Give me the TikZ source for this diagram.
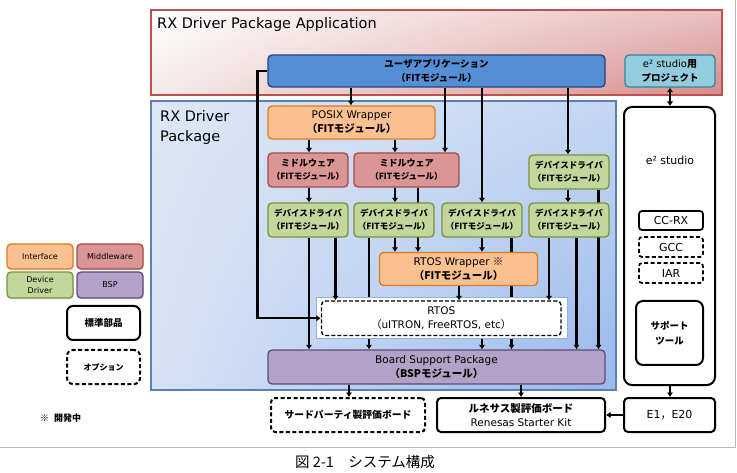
\documentclass[tikz,border=0pt]{standalone}
\usepackage{fontspec}
\setmainfont{DejaVu Sans}
\newfontfamily\cjk{Noto Sans CJK JP}
\usetikzlibrary{arrows.meta,shadows,shadings}
\newcommand{\myjb}[1]{{\cjk\bfseries #1}}
\newcommand{\myj}[1]{{\cjk #1}}
\definecolor{redB}{HTML}{C0504D}
\definecolor{redR1}{HTML}{E9C0C0}
\definecolor{redR2}{HTML}{D68C8A}
\definecolor{redL}{HTML}{F3EAEA}
\definecolor{bluB}{HTML}{5B7FB5}
\definecolor{bluUL}{HTML}{DDE7F5}
\definecolor{bluLL}{HTML}{D6E2F5}
\definecolor{bluUR}{HTML}{C4D7F3}
\definecolor{bluLR}{HTML}{98B8EC}
\definecolor{uaF}{HTML}{558ED5}
\definecolor{uaD}{HTML}{24467A}
\definecolor{cyF}{HTML}{93CDDD}
\definecolor{cyD}{HTML}{31859C}
\definecolor{orF}{HTML}{FAC090}
\definecolor{orD}{HTML}{E07B22}
\definecolor{mwF}{HTML}{D99694}
\definecolor{mwD}{HTML}{A84A48}
\definecolor{ddF}{HTML}{C3D69B}
\definecolor{ddD}{HTML}{77933C}
\definecolor{bspF}{HTML}{B3A2C7}
\definecolor{bspD}{HTML}{604A7B}
\definecolor{rtB}{HTML}{8DB3E2}
\pgfdeclarelayer{bg}
\pgfdeclarelayer{edges}
\pgfsetlayers{bg,edges,main}
\begin{document}
\begin{tikzpicture}[x=1pt,y=-1pt,
  box/.style={rounded corners=4pt, line width=1.3pt, align=center, inner sep=0pt},
  obox/.style={box, fill=orF, draw=orD},
  mbox/.style={box, fill=mwF, draw=mwD},
  dbox/.style={box, fill=ddF, draw=ddD},
  pbox/.style={box, fill=bspF, draw=bspD},
  kbox/.style={rounded corners=4pt, line width=2pt, draw=black, fill=white, align=center, inner sep=0pt},
  kdash/.style={kbox, dash pattern=on 4pt off 2.5pt},
  arr/.style={line width=2.3pt, -{Latex[length=4.5pt,width=6.5pt]}},
  ddsize/.style={minimum width=80, minimum height=34},
  jpsmall/.style={font=\cjk\bfseries\fontsize{8.5}{13}\selectfont},
  legshadow/.style={drop shadow={opacity=0.25, shadow xshift=1pt, shadow yshift=-1.5pt}},
  leg/.style={box, legshadow, font=\fontsize{8}{11}\selectfont, minimum width=66},
]
\useasboundingbox (0,0) rectangle (737,473);

\begin{pgfonlayer}{bg}
  \draw[gray!55, line width=0.8pt] (0,447.5) -- (735.5,447.5) -- (735.5,0);
  \node[shade, draw=redB, line width=1.4pt, upper left=white, upper right=redR1,
        lower left=redL, lower right=redR2, minimum width=571, minimum height=85] (appbox) at (436.5,52.5) {};
  \node[shade, draw=bluB, line width=1.2pt, upper left=bluUL, upper right=bluUR,
        lower left=bluLL, lower right=bluLR, minimum width=465, minimum height=289] (drvbox) at (383.5,245.5) {};
  \node[anchor=base west, inner sep=0pt, font=\fontsize{14.5}{18}\selectfont] (apptitle) at (157,29) {RX Driver Package Application};
  \node[anchor=base west, inner sep=0pt, font=\fontsize{14.5}{18}\selectfont] (drvtitleA) at (160,122) {RX Driver};
  \node[anchor=base west, inner sep=0pt, font=\fontsize{14.5}{18}\selectfont] (drvtitleB) at (160,142) {Package};
\end{pgfonlayer}

% top level boxes
\node[box, fill=uaF, draw=uaD, minimum width=337, minimum height=32, font=\cjk\bfseries\fontsize{9.5}{13.5}\selectfont] (userapp) at (436.5,71) {ユーザアプリケーション\\（FITモジュール）};
\node[box, fill=cyF, draw=cyD, minimum width=90, minimum height=32, font=\fontsize{10}{14}\selectfont] (e2proj) at (670,71) {e² studio\myjb{用}\\\myjb{\fontsize{9.5}{14}\selectfont プロジェクト}};

% driver package boxes
\node[obox, minimum width=167, minimum height=33, font=\fontsize{10.5}{14}\selectfont] (posix) at (351.5,122.5) {POSIX Wrapper\\\myjb{（FITモジュール）}};
\node[mbox, minimum width=80, minimum height=34, jpsmall] (mw1) at (308,170) {{\fontsize{9}{13}\selectfont ミドルウェア}\\（FITモジュール）};
\node[mbox, minimum width=105, minimum height=34, jpsmall] (mw2) at (406.5,170) {{\fontsize{9}{13}\selectfont ミドルウェア}\\（FITモジュール）};
\node[dbox, ddsize, jpsmall] (ddtr) at (569,172) {デバイスドライバ\\（FITモジュール）};
\node[dbox, ddsize, jpsmall] (dd1) at (308,220) {デバイスドライバ\\（FITモジュール）};
\node[dbox, ddsize, jpsmall] (dd2) at (394,220) {デバイスドライバ\\（FITモジュール）};
\node[dbox, ddsize, jpsmall] (dd3) at (482,220) {デバイスドライバ\\（FITモジュール）};
\node[dbox, ddsize, jpsmall] (dd4) at (569,220) {デバイスドライバ\\（FITモジュール）};
\node[obox, minimum width=158, minimum height=33, font=\fontsize{10.5}{14}\selectfont] (rtosw) at (458.5,269) {RTOS Wrapper \myj{※}\\\myjb{（FITモジュール）}};
\node[draw=rtB, fill=white, line width=0.8pt, minimum width=250.5, minimum height=41, inner sep=0pt] (rtosbg) at (441.75,317.5) {};
\node[rounded corners=4pt, draw=black, line width=1.4pt, dash pattern=on 4pt off 2pt, minimum width=239.5, minimum height=34.5, align=center, inner sep=0pt, font=\fontsize{10.5}{14}\selectfont] (rtos) at (441.25,318.25) {RTOS\\\myj{（}uITRON, FreeRTOS, etc\myj{）}};
\node[pbox, minimum width=337, minimum height=34, font=\fontsize{10.5}{14}\selectfont] (bsp) at (436.5,367) {Board Support Package\\\myjb{（BSPモジュール）}};

% boards
\node[kdash, minimum width=154, minimum height=34, font=\cjk\bfseries\fontsize{9.8}{13}\selectfont] (third) at (348,415) {サードパーティ製評価ボード};
\node[kbox, minimum width=168, minimum height=34, font=\fontsize{10.5}{14}\selectfont] (rsk) at (521,415) {\myjb{ルネサス製評価ボード}\\Renesas Starter Kit};
\node[kbox, minimum width=91, minimum height=34, font=\fontsize{11}{14}\selectfont] (e1) at (669.5,415) {E1\myj{，}E20};

% e2 studio
\node[kbox, rounded corners=8pt, minimum width=91, minimum height=278] (e2studio) at (669.5,246) {};
\node[inner sep=0pt, font=\fontsize{11}{14}\selectfont] (e2label) at (670,160) {e² studio};
\node[kbox, rounded corners=3pt, line width=1.7pt, minimum width=64, minimum height=19, font=\fontsize{11}{14}\selectfont] (ccrx) at (671,220.5) {CC-RX};
\node[kdash, rounded corners=3pt, line width=1.7pt, minimum width=64, minimum height=20, font=\fontsize{11}{14}\selectfont] (gcc) at (671,247) {GCC};
\node[kdash, rounded corners=3pt, line width=1.7pt, minimum width=64, minimum height=20, font=\fontsize{11}{14}\selectfont] (iar) at (671,273) {IAR};
\node[kbox, rounded corners=7pt, minimum width=67, minimum height=64, font=\cjk\bfseries\fontsize{9.5}{15}\selectfont] (support) at (669.5,333) {サポート\\ツール};

% legend
\node[leg, fill=orF, draw=orD, minimum height=25] (legI) at (40,256.5) {Interface};
\node[leg, fill=mwF, draw=mwD, minimum height=25] (legM) at (110,256.5) {Middleware};
\node[leg, fill=ddF, draw=ddD, minimum height=26] (legD) at (40,285) {Device\\Driver};
\node[leg, fill=bspF, draw=bspD, minimum height=26] (legB) at (110,285) {BSP};
\node[kbox, rounded corners=6pt, minimum width=73, minimum height=34, font=\cjk\bfseries\fontsize{9.5}{13}\selectfont] (legStd) at (103.5,323) {標準部品};
\node[kdash, rounded corners=6pt, minimum width=73, minimum height=34, font=\cjk\bfseries\fontsize{8}{13}\selectfont] (legOpt) at (103.5,367) {オプション};
\node[anchor=west, inner sep=0pt, font=\cjk\fontsize{9}{12}\selectfont] (note) at (40,418) {※\hspace{5pt}{\bfseries 開発中}};

% caption
\node[inner sep=0pt, font=\cjk\fontsize{14.5}{17}\selectfont] (caption) at (365,462) {図 2-1　システム構成};

% x positions
\coordinate (xP) at (351,0);
\coordinate (xM2) at (445,0);
\coordinate (xD3) at (482,0);
\coordinate (xTR) at (568,0);
\coordinate (xA) at (309,0);
\coordinate (xB) at (395,0);
\coordinate (xC) at (418,0);
\coordinate (xK) at (598.5,0);
\coordinate (xF) at (369,0);
\coordinate (xG) at (511.5,0);
\coordinate (xJ) at (576.5,0);
\coordinate (xD) at (335.5,0);
\coordinate (xH) at (459,0);
\coordinate (xI) at (549,0);
\coordinate (xS3) at (349,0);
\coordinate (xS4) at (521,0);
\coordinate (xE) at (670,0);

\begin{pgfonlayer}{edges}
  \draw[arr] (userapp.south -| xP) -- (posix.north -| xP);
  \draw[arr] (userapp.south -| xM2) -- (mw2.north -| xM2);
  \draw[arr] (userapp.south -| xD3) -- (dd3.north -| xD3);
  \draw[arr] (userapp.south -| xTR) -- (ddtr.north -| xTR);
  \draw[line width=2.3pt, {Latex[length=4.5pt,width=6.5pt]}-{Latex[length=4.5pt,width=6.5pt]}] (e2proj.south -| xE) -- (e2studio.north -| xE);
  \draw[arr] (posix.south -| xA) -- (mw1.north -| xA);
  \draw[arr] (posix.south -| xB) -- (mw2.north -| xB);
  \draw[arr] (mw1.south -| xA) -- (dd1.north -| xA);
  \draw[arr] (mw2.south -| xB) -- (dd2.north -| xB);
  \draw[arr] (mw2.south -| xC) -- (rtosw.north -| xC);
  \draw[arr] (ddtr.south -| xTR) -- (dd4.north -| xTR);
  \draw[arr] (ddtr.south -| xK) -- (bsp.north -| xK);
  \draw[arr] (dd1.south -| xA) -- (bsp.north -| xA);
  \draw[arr] (dd2.south -| xF) -- (bsp.north -| xF);
  \draw[arr] (dd2.south -| xB) -- (rtosw.north -| xB);
  \draw[arr] (dd3.south -| xD3) -- (rtosw.north -| xD3);
  \draw[arr] (dd3.south -| xG) -- (bsp.north -| xG);
  \draw[arr] (rtosbg.south -| xD3) -- (bsp.north -| xD3);
  \draw[arr] (dd4.south -| xJ) -- (bsp.north -| xJ);
  \draw[arr] (bsp.south -| xS3) -- (third.north -| xS3);
  \draw[arr] (bsp.south -| xS4) -- (rsk.north -| xS4);
  \draw[arr] (e2studio.south -| xE) -- (e1.north -| xE);
  \draw[arr] (e1.west) -- (rsk.east);
\end{pgfonlayer}

\draw[arr] (dd1.south -| xD) -- (rtos.north -| xD);
\draw[arr] (rtosw.south -| xH) -- (rtos.north -| xH);
\draw[arr] (dd4.south -| xI) -- (rtos.north -| xI);
\draw[arr] (userapp.west) -- ++(-10,0) |- (rtos.west);
\end{tikzpicture}
\end{document}
